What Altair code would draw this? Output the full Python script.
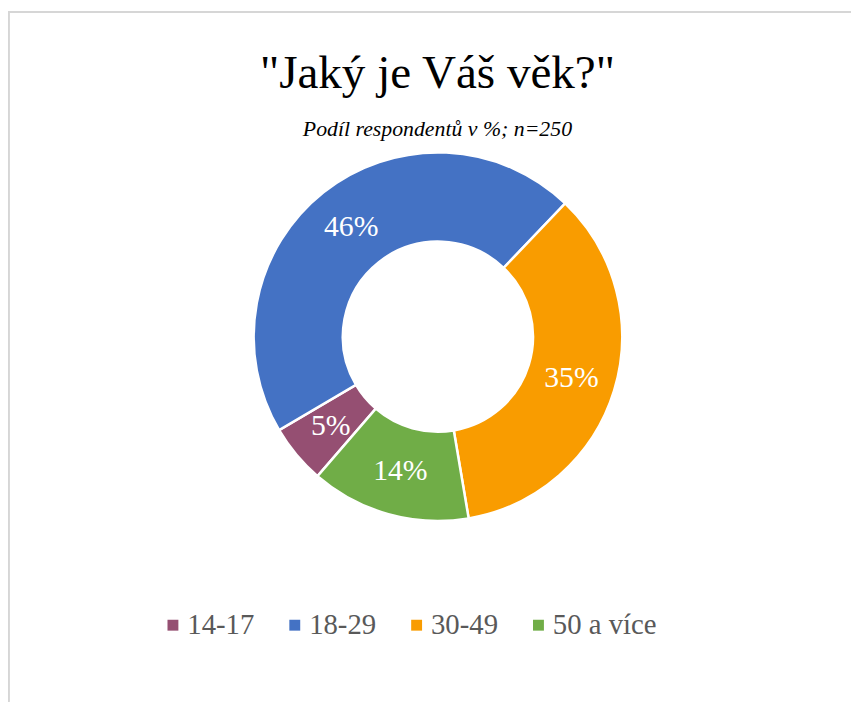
import math
import altair as alt
import pandas as pd

categories = ["14-17", "18-29", "30-49", "50 a více"]
values = [5.2, 45.6, 35.2, 14.0]
colors = ["#954F72", "#4472C4", "#F99C00", "#70AD47"]
order = [1, 2, 3, 4]

df = pd.DataFrame({"kategorie": categories, "podil": values, "poradi": order})

SERIF = "Liberation Serif"

start = math.radians(220.8)
theta_scale = alt.Scale(range=[start, start + 2 * math.pi])

CX, CY = 434, 328.5

base = alt.Chart(df).encode(
    theta=alt.Theta("podil:Q", stack=True, scale=theta_scale),
    order=alt.Order("poradi:Q"),
)

arcs = base.mark_arc(stroke="white", strokeWidth=2.5).encode(
    color=alt.Color(
        "kategorie:N",
        scale=alt.Scale(domain=categories, range=colors),
        legend=alt.Legend(
            title=None,
            orient="none",
            direction="horizontal",
            legendX=152,
            legendY=605,
            symbolType="square",
            symbolSize=121,
            symbolStrokeWidth=0,
            labelFont=SERIF,
            labelFontSize=29,
            labelColor="#595959",
            labelOffset=0,
            columnPadding=26,
            padding=0,
        ),
    ),
    x=alt.value(CX),
    y=alt.value(CY),
    radius=alt.value(186),
    radius2=alt.value(96),
)

labels = base.mark_text(
    font=SERIF, fontSize=30, color="white", align="center", baseline="middle"
).transform_calculate(
    stitek="format(datum.podil, '.0f') + '%'"
).encode(
    text="stitek:N",
    x=alt.value(CX),
    y=alt.value(CY),
    radius=alt.value(141),
)

border_left = alt.Chart(df).mark_rule(color="#D6D6D6", strokeWidth=1.5).encode(
    x=alt.value(0.75), y=alt.value(0), y2=alt.value(697)
)
border_top = alt.Chart(df).mark_rule(color="#D6D6D6", strokeWidth=1.5).encode(
    x=alt.value(0), x2=alt.value(851), y=alt.value(0.75)
)

chart = alt.layer(border_left, border_top, arcs, labels).properties(
    width=851,
    height=697,
    autosize=alt.AutoSizeParams(type="none"),
    padding=0,
    title=alt.TitleParams(
        text='"Jaký je Váš věk?"',
        subtitle="Podíl respondentů v %; n=250",
        font=SERIF,
        fontSize=47.5,
        fontWeight="normal",
        color="black",
        subtitleFont=SERIF,
        subtitleFontSize=22,
        subtitleFontStyle="italic",
        subtitleColor="black",
        subtitlePadding=22,
        anchor="middle",
        offset=0,
        dx=8,
        dy=131,
    ),
).configure_view(stroke=None)

chart.save("out.html", embed_options={"renderer": "svg", "actions": False})
